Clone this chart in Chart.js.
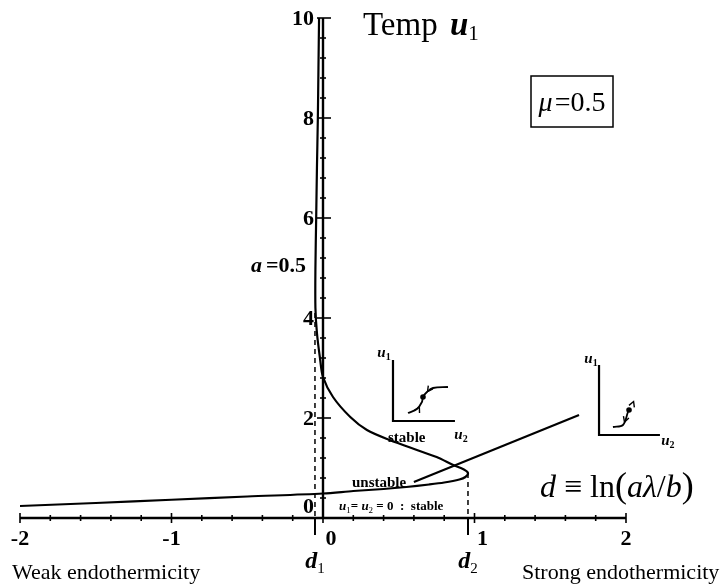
<!DOCTYPE html>
<html>
<head>
<meta charset="utf-8">
<script src="https://cdn.jsdelivr.net/npm/chart.js@4.4.1/dist/chart.umd.min.js"></script>
<style>
  html, body { margin: 0; padding: 0; background: #fff; }
  #wrap { width: 722px; height: 586px; }
</style>
</head>
<body>
<div id="wrap"><canvas id="chart" width="722" height="586"></canvas></div>
<script>
// Steady states of the temperature u1 against d = ln(a*lambda/b), mu = 0.5, a = 0.5

// lower branch, from the left edge up to the turning point at d2
const lowerD = [-2, -1.5, -1, -0.5, 0, 0.2, 0.4, 0.55, 0.7, 0.8, 0.9, 0.94, 0.957];
const lowerU = [0.24, 0.30, 0.365, 0.43, 0.49, 0.54, 0.58, 0.62, 0.67, 0.71, 0.77, 0.82, 0.9];

// upper branch, from the turning point back up to the top
const upperD = [0.93, 0.86, 0.75, 0.62, 0.44, 0.29, 0.18, 0.066, 0, -0.02, -0.04, -0.05, -0.05, -0.045, -0.04, -0.034, -0.03, -0.026];
const upperU = [0.97, 1.06, 1.22, 1.36, 1.56, 1.76, 2.02, 2.42, 2.82, 3.2, 3.7, 4.2, 5.0, 6.0, 7.0, 8.0, 9.0, 10];

// straight branch
const lineD = [0.6, 1.69];
const lineU = [0.72, 2.06];

// critical values
const d1 = -0.053, d1Top = 4.1;
const d2 = 0.957, d2Top = 0.9;

// axis ticks
const xTicks = [-2, -1, 0, 1, 2];
const xTickLabels = ['-2', '-1', '0', '1', '2'];
const yTicks = [0, 2, 4, 6, 8, 10];
const yTickLabels = ['0', '2', '4', '6', '8', '10'];

// small phase-plane sketches (u2 across, u1 up)
const inset1AxisD = [0.462, 0.462, 0.871];
const inset1AxisU = [3.16, 1.94, 1.94];
const inset1CurveD = [0.561, 0.62, 0.653, 0.66, 0.686, 0.726, 0.825];
const inset1CurveU = [2.10, 2.18, 2.32, 2.42, 2.52, 2.60, 2.62];
const inset1Dot = [0.66, 2.42];

const inset2AxisD = [1.822, 1.822, 2.224];
const inset2AxisU = [3.06, 1.66, 1.66];
const inset2CurveD = [1.914, 1.98, 2.013, 2.02, 2.046, 2.106, 2.185];
const inset2CurveU = [1.82, 1.86, 2.12, 2.16, 2.32, 2.50, 2.56];
const inset2Dot = [2.02, 2.16];

const SERIF = '"Liberation Serif", "Times New Roman", serif';

const pts = (xs, ys) => xs.map((x, i) => ({ x, y: ys[i] }));

const curve = pts(lowerD, lowerU).concat(pts(upperD, upperU));

function drawParts(ctx, parts, x, y, align) {
    let w = 0;
    parts.forEach(p => { ctx.font = p.f; w += ctx.measureText(p.t).width + (p.gap || 0); });
    let cx = align === 'right' ? x - w : align === 'center' ? x - w / 2 : x;
    ctx.textBaseline = 'alphabetic';
    ctx.textAlign = 'left';
    parts.forEach(p => {
        ctx.font = p.f;
        ctx.fillText(p.t, cx, y + (p.dy || 0));
        cx += ctx.measureText(p.t).width + (p.gap || 0);
    });
    return w;
}

function arrowHead(ctx, x, y, angle, size) {
    ctx.beginPath();
    ctx.moveTo(x - size * Math.cos(angle - 0.5), y - size * Math.sin(angle - 0.5));
    ctx.lineTo(x, y);
    ctx.lineTo(x - size * Math.cos(angle + 0.5), y - size * Math.sin(angle + 0.5));
    ctx.stroke();
}

const axesPlugin = {
    id: 'axesPlugin',
    beforeDatasetsDraw(chart) {
        const ctx = chart.ctx;
        const xs = chart.scales.x, ys = chart.scales.y;
        const x0 = xs.getPixelForValue(0), y0 = ys.getPixelForValue(0);
        ctx.save();
        ctx.strokeStyle = '#000';
        ctx.fillStyle = '#000';
        ctx.lineCap = 'butt';

        // horizontal axis
        ctx.lineWidth = 2.4;
        ctx.beginPath();
        ctx.moveTo(xs.getPixelForValue(-2), y0);
        ctx.lineTo(xs.getPixelForValue(2), y0);
        ctx.stroke();
        ctx.lineWidth = 1.6;
        for (let i = -10; i <= 10; i++) {
            const px = xs.getPixelForValue(i / 5);
            const h = i % 5 === 0 ? 5 : 3;
            ctx.beginPath();
            ctx.moveTo(px, y0 - h);
            ctx.lineTo(px, y0 + h);
            ctx.stroke();
        }

        // vertical axis
        ctx.lineWidth = 2.4;
        ctx.beginPath();
        ctx.moveTo(x0, y0);
        ctx.lineTo(x0, ys.getPixelForValue(10));
        ctx.stroke();
        ctx.lineWidth = 1.6;
        for (let i = 0; i <= 25; i++) {
            const py = ys.getPixelForValue(i * 0.4);
            const major = i % 5 === 0;
            ctx.beginPath();
            ctx.moveTo(x0 - (major ? 6 : 3), py);
            ctx.lineTo(x0 + (major ? 8 : 3), py);
            ctx.stroke();
        }

        // long marks under the axis at d1 and d2
        ctx.lineWidth = 2;
        [d1, d2].forEach(d => {
            const px = xs.getPixelForValue(d);
            ctx.beginPath();
            ctx.moveTo(px, y0);
            ctx.lineTo(px, y0 + 17);
            ctx.stroke();
        });

        // tick labels
        const tickFont = 'bold 22px ' + SERIF;
        ctx.font = tickFont;
        ctx.textBaseline = 'middle';
        ctx.textAlign = 'center';
        xTicks.forEach((v, i) => {
            const shift = (v === 0 || v === 1) ? 8 : 0;
            ctx.fillText(xTickLabels[i], xs.getPixelForValue(v) + shift, y0 + 21);
        });
        ctx.textAlign = 'right';
        yTicks.forEach((v, i) => {
            const lift = v === 0 ? -12 : 0;
            ctx.fillText(yTickLabels[i], x0 - 9, ys.getPixelForValue(v) + 1 + lift);
        });
        ctx.restore();
    },
    afterDatasetsDraw(chart) {
        const ctx = chart.ctx;
        const xs = chart.scales.x, ys = chart.scales.y;
        const px = v => xs.getPixelForValue(v), py = v => ys.getPixelForValue(v);
        ctx.save();
        ctx.fillStyle = '#000';
        ctx.strokeStyle = '#000';

        // titles and labels
        drawParts(ctx, [
            { t: 'Temp ', f: '33px ' + SERIF, gap: 4 },
            { t: 'u', f: 'italic bold 33px ' + SERIF },
            { t: '1', f: '21px ' + SERIF, dy: 5 }
        ], 363, 35, 'left');

        drawParts(ctx, [
            { t: 'a', f: 'italic bold 22px ' + SERIF, gap: 4 },
            { t: '=0.5', f: 'bold 22px ' + SERIF }
        ], 306, 272, 'right');

        ctx.lineWidth = 1.5;
        ctx.strokeRect(531, 76, 82, 51);
        drawParts(ctx, [
            { t: '\u03bc', f: 'italic 28px ' + SERIF, gap: 2 },
            { t: '=0.5', f: '28px ' + SERIF }
        ], 572, 111, 'center');

        drawParts(ctx, [
            { t: 'd', f: 'italic 32px ' + SERIF },
            { t: ' \u2261 ln', f: '32px ' + SERIF },
            { t: '(', f: '36px ' + SERIF },
            { t: 'a\u03bb', f: 'italic 32px ' + SERIF },
            { t: '/', f: '32px ' + SERIF },
            { t: 'b', f: 'italic 32px ' + SERIF },
            { t: ')', f: '36px ' + SERIF }
        ], 540, 497, 'left');

        drawParts(ctx, [{ t: 'stable', f: 'bold 15px ' + SERIF }], 388, 442, 'left');
        drawParts(ctx, [{ t: 'unstable', f: 'bold 15px ' + SERIF }], 352, 487, 'left');
        drawParts(ctx, [
            { t: 'u', f: 'italic bold 13px ' + SERIF },
            { t: '1', f: '9px ' + SERIF, dy: 3 },
            { t: '= ', f: 'bold 13px ' + SERIF },
            { t: 'u', f: 'italic bold 13px ' + SERIF },
            { t: '2', f: '9px ' + SERIF, dy: 3 },
            { t: ' = 0  :  stable', f: 'bold 13px ' + SERIF }
        ], 339, 510, 'left');

        drawParts(ctx, [{ t: 'Weak endothermicity', f: '22px ' + SERIF }], 12, 579, 'left');
        drawParts(ctx, [{ t: 'Strong endothermicity', f: '22px ' + SERIF }], 522, 579, 'left');
        drawParts(ctx, [
            { t: 'd', f: 'italic bold 24px ' + SERIF },
            { t: '1', f: '15px ' + SERIF, dy: 5 }
        ], px(d1), 568, 'center');
        drawParts(ctx, [
            { t: 'd', f: 'italic bold 24px ' + SERIF },
            { t: '2', f: '15px ' + SERIF, dy: 5 }
        ], px(d2), 568, 'center');

        // phase-plane labels
        const small = (x, y, s) => drawParts(ctx, [
            { t: 'u', f: 'italic bold 15px ' + SERIF },
            { t: s, f: 'bold 10px ' + SERIF, dy: 3 }
        ], x, y, 'center');
        small(px(inset1AxisD[0]) - 9, py(inset1AxisU[0]) - 3, '1');
        small(px(inset1AxisD[2]) + 6, py(inset1AxisU[2]) + 18, '2');
        small(px(inset2AxisD[0]) - 8, py(inset2AxisU[0]) - 2, '1');
        small(px(inset2AxisD[2]) + 8, py(inset2AxisU[2]) + 10, '2');

        // flow arrows on the sketches
        ctx.lineWidth = 1.4;
        arrowHead(ctx, px(0.636), py(2.22), -1.1, 6);
        arrowHead(ctx, px(0.69), py(2.53), 2.2, 6);
        arrowHead(ctx, px(2.05), py(2.33), -1.2, 6);
        arrowHead(ctx, px(1.99), py(1.92), 1.9, 6);
        ctx.restore();
    }
};

const line = (data, width, extra) => Object.assign({
    data, showLine: true, borderColor: '#000', borderWidth: width,
    pointRadius: 0, fill: false, tension: 0, clip: false
}, extra || {});

new Chart(document.getElementById('chart'), {
    type: 'scatter',
    data: {
        datasets: [
            line(curve, 2.2, { tension: 0.3 }),
            line(pts(lineD, lineU), 2.2),
            line([{ x: d1, y: d1Top }, { x: d1, y: 0 }], 1.5, { borderDash: [5, 4] }),
            line([{ x: d2, y: d2Top }, { x: d2, y: 0 }], 1.5, { borderDash: [5, 4] }),
            line(pts(inset1AxisD, inset1AxisU), 2.2),
            line(pts(inset1CurveD, inset1CurveU), 1.8, { tension: 0.35 }),
            line(pts(inset2AxisD, inset2AxisU), 2.2),
            line(pts(inset2CurveD, inset2CurveU), 1.8, { tension: 0.35 }),
            {
                data: [{ x: inset1Dot[0], y: inset1Dot[1] }, { x: inset2Dot[0], y: inset2Dot[1] }],
                pointRadius: 2.8, pointBackgroundColor: '#000', pointBorderWidth: 0, clip: false
            }
        ]
    },
    options: {
        responsive: false,
        animation: false,
        devicePixelRatio: 1,
        layout: { padding: { left: 20, right: 96, top: 18, bottom: 68 } },
        plugins: { legend: { display: false }, tooltip: { enabled: false } },
        scales: {
            x: { type: 'linear', min: -2, max: 2, display: false },
            y: { type: 'linear', min: 0, max: 10, display: false }
        }
    },
    plugins: [axesPlugin]
});
</script>
</body>
</html>
